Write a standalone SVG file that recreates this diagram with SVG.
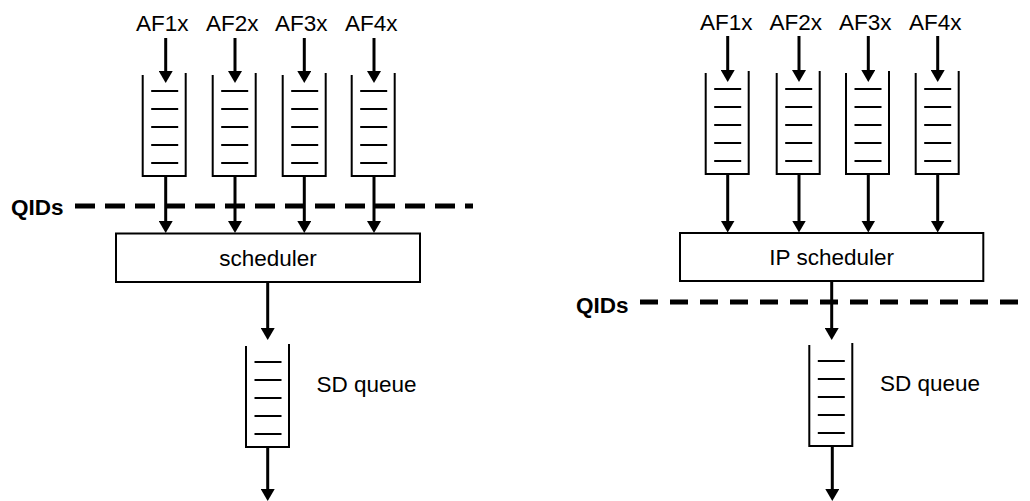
<svg xmlns="http://www.w3.org/2000/svg" width="1030" height="501" viewBox="0 0 1030 501">
<style>
text{font-family:"Liberation Sans",Arial,sans-serif;font-size:22.5px;fill:#000}
.b{font-weight:bold}
.q{fill:none;stroke:#000;stroke-width:2}
.sl{stroke:#000;stroke-width:2}
.box{fill:#fff;stroke:#000;stroke-width:2}
.ar{stroke:#000;stroke-width:3;fill:none;marker-end:url(#ah)}
.dash{stroke:#000;stroke-width:5;stroke-dasharray:20 10;fill:none}
.dash2{stroke:#000;stroke-width:5;stroke-dasharray:18 12;fill:none}
</style>
<defs>
<marker id="ah" markerUnits="userSpaceOnUse" viewBox="0 0 12 14" refX="2" refY="7" markerWidth="12" markerHeight="14" orient="auto">
<path d="M0,0 L12,7 L0,14 z" fill="#000"/>
</marker>
<g id="qshape">
<path class="q" d="M0,0 V101 H43 V-2"/>
<path class="sl" d="M8.5,16 H35.5 M8.5,34 H35.5 M8.5,52 H35.5 M8.5,70 H35.5 M8.5,88 H35.5"/>
</g>
</defs>

<!-- Left diagram -->
<g id="left-labels">
<text x="136" y="31">AF1x</text>
<text x="206" y="31">AF2x</text>
<text x="275" y="31">AF3x</text>
<text x="345" y="31">AF4x</text>
</g>
<g id="left-q1"><use href="#qshape" x="142.7" y="75"/></g>
<g id="left-q2"><use href="#qshape" x="212.7" y="75"/></g>
<g id="left-q3"><use href="#qshape" x="282.7" y="75"/></g>
<g id="left-q4"><use href="#qshape" x="351.7" y="75"/></g>
<g id="left-scheduler">
<rect class="box" x="116" y="233.5" width="304" height="48.5"/>
<text x="268" y="266" text-anchor="middle">scheduler</text>
</g>
<g id="left-sdq">
<use href="#qshape" x="246" y="346"/>
<text x="316.5" y="392">SD queue</text>
</g>
<g id="left-qids">
<text class="b" x="11" y="215">QIDs</text>
<path class="dash" d="M75,206 H473"/>
</g>

<!-- Right diagram -->
<g id="right-labels">
<text x="700" y="30">AF1x</text>
<text x="769.5" y="30">AF2x</text>
<text x="839" y="30">AF3x</text>
<text x="909" y="30">AF4x</text>
</g>
<g id="right-q1"><use href="#qshape" x="705.7" y="73"/></g>
<g id="right-q2"><use href="#qshape" x="776.7" y="73"/></g>
<g id="right-q3"><use href="#qshape" x="846" y="73"/></g>
<g id="right-q4"><use href="#qshape" x="915.7" y="73"/></g>
<g id="right-scheduler">
<rect class="box" x="680" y="233" width="303.3" height="48"/>
<text x="831.7" y="265" text-anchor="middle">IP scheduler</text>
</g>
<g id="right-sdq">
<use href="#qshape" x="809.3" y="345"/>
<text x="880" y="390.5">SD queue</text>
</g>
<g id="right-qids">
<text class="b" x="576" y="312.5">QIDs</text>
<path class="dash2" d="M640,302 H1030"/>
</g>

<g id="connectors">
<line class="ar" x1="165.7" y1="38" x2="165.7" y2="73"/>
<line class="ar" x1="235" y1="38" x2="235" y2="73"/>
<line class="ar" x1="304.3" y1="38" x2="304.3" y2="73"/>
<line class="ar" x1="374" y1="38" x2="374" y2="73"/>
<line class="ar" x1="165.7" y1="176" x2="165.7" y2="223"/>
<line class="ar" x1="235" y1="176" x2="235" y2="223"/>
<line class="ar" x1="304.3" y1="176" x2="304.3" y2="223"/>
<line class="ar" x1="374" y1="176" x2="374" y2="223"/>
<line class="ar" x1="267.7" y1="282" x2="267.7" y2="330"/>
<line class="ar" x1="267.7" y1="447" x2="267.7" y2="491"/>

<line class="ar" x1="727.7" y1="36" x2="727.7" y2="72"/>
<line class="ar" x1="799" y1="36" x2="799" y2="72"/>
<line class="ar" x1="868.3" y1="36" x2="868.3" y2="72"/>
<line class="ar" x1="937.7" y1="36" x2="937.7" y2="72"/>
<line class="ar" x1="727.7" y1="174" x2="727.7" y2="222.5"/>
<line class="ar" x1="799" y1="174" x2="799" y2="222.5"/>
<line class="ar" x1="868.3" y1="174" x2="868.3" y2="222.5"/>
<line class="ar" x1="937.7" y1="174" x2="937.7" y2="222.5"/>
<line class="ar" x1="831.7" y1="281" x2="831.7" y2="330"/>
<line class="ar" x1="832.3" y1="446" x2="832.3" y2="491"/>
</g>
</svg>
